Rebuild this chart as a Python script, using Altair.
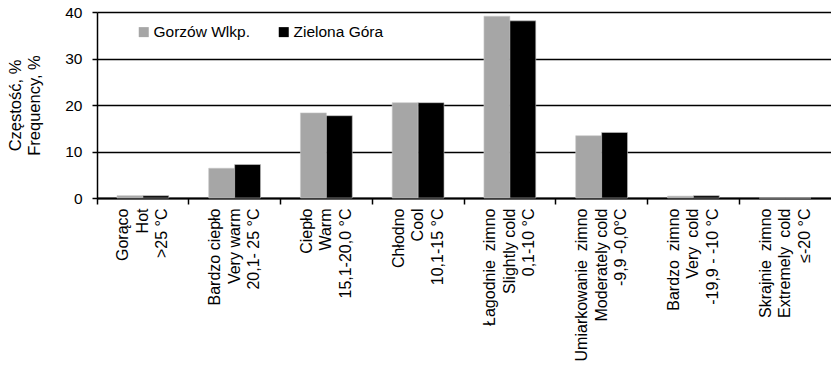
import altair as alt
import pandas as pd

categories = [
    "Gorąco|Hot|>25 °C",
    "Bardzo ciepło|Very warm|20,1- 25 °C",
    "Ciepło|Warm|15,1-20,0 °C",
    "Chłodno|Cool|10,1-15 °C",
    "Łagodnie\u00a0 zimno|Slightly cold|0,1-10 °C",
    "Umiarkowanie\u00a0 zimno|Moderately cold|-9,9 -0,0°C",
    "Bardzo\u00a0 zimno|Very\u00a0 cold|-19,9 - -10 °C",
    "Skrajnie\u00a0 zimno|Extremely\u00a0 cold|≤-20 °C",
]
series_names = ["Gorzów Wlkp.", "Zielona Góra"]
gorzow = [0.5, 6.4, 18.3, 20.5, 39.1, 13.4, 0.4, 0.0]
zielona = [0.5, 7.2, 17.7, 20.5, 38.1, 14.1, 0.5, 0.0]
y_ticks = [0, 10, 20, 30, 40]

rows = []
for c, g, z in zip(categories, gorzow, zielona):
    rows.append({"cat": c, "series": series_names[0], "value": g})
    rows.append({"cat": c, "series": series_names[1], "value": z})
df = pd.DataFrame(rows)

FONT = "Liberation Sans"
FS = 15.5
XFS = 16
LH = 19.5

chart = alt.Chart(df).mark_bar(stroke="#c8c8c8", strokeWidth=0.6).encode(
    x=alt.X(
        "cat:N",
        sort=categories,
        scale=alt.Scale(paddingInner=0, paddingOuter=0),
        axis=alt.Axis(
            title=None,
            labelExpr="split(datum.label, '|')",
            labelAngle=-90,
            labelAlign="right",
            labelBaseline="middle",
            labelLineHeight=LH,
            labelOffset=-LH,
            labelPadding=4,
            labelLimit=0,
            labelFont=FONT,
            labelFontSize=XFS,
            labelColor="#000000",
            bandPosition=0,
            tickSize=6,
            tickWidth=1.5,
            tickColor="#000000",
            domainColor="#000000",
            domainWidth=2,
            grid=False,
        ),
    ),
    xOffset=alt.XOffset(
        "series:N",
        sort=series_names,
        scale=alt.Scale(paddingInner=0, paddingOuter=0.77),
    ),
    y=alt.Y(
        "value:Q",
        scale=alt.Scale(domain=[0, 40], nice=False),
        axis=alt.Axis(
            title=["Częstość, %", "Frequency, %"],
            titleFont=FONT,
            titleFontSize=16.5,
            titleFontWeight="normal",
            titleColor="#000000",
            titleLineHeight=19.5,
            titleAngle=-90,
            titleBaseline="middle",
            titleAlign="center",
            titleX=-82,
            titleY=93,
            values=y_ticks,
            labelFont=FONT,
            labelFontSize=FS,
            labelColor="#000000",
            labelPadding=10,
            tickSize=5,
            tickWidth=1.5,
            tickColor="#000000",
            domainColor="#000000",
            domainWidth=1.5,
            gridColor="#000000",
            gridWidth=1.5,
        ),
    ),
    color=alt.Color(
        "series:N",
        sort=series_names,
        scale=alt.Scale(domain=series_names, range=["#a6a6a6", "#000000"]),
        legend=alt.Legend(
            title=None,
            orient="none",
            legendX=39,
            legendY=12,
            direction="horizontal",
            symbolType="square",
            symbolSize=100,
            symbolStrokeWidth=0,
            labelFont=FONT,
            labelFontSize=FS,
            labelColor="#000000",
            labelOffset=2,
            columnPadding=26,
            padding=0,
        ),
    ),
).properties(
    width=734,
    height=186,
    autosize=alt.AutoSizeParams(type="none"),
    padding={"left": 97, "top": 12, "right": 0, "bottom": 170},
).configure_view(strokeWidth=0)

chart.save("out.html", embed_options={"renderer": "svg", "actions": False})
